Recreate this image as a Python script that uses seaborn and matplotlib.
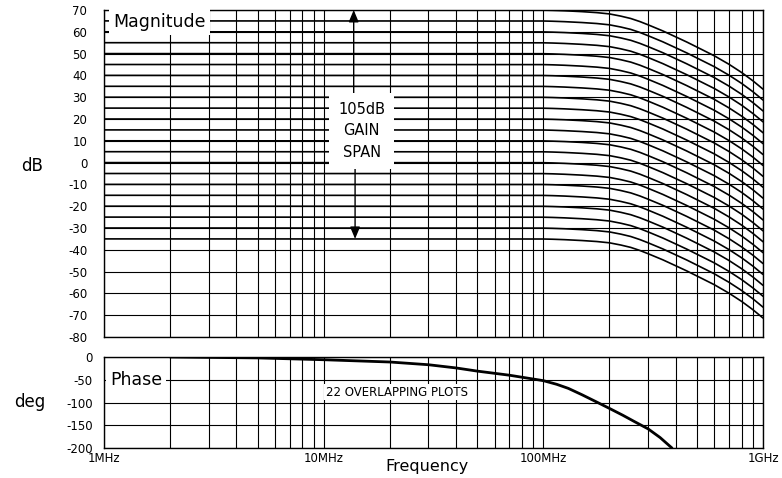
import matplotlib
matplotlib.use("Agg")
import matplotlib.pyplot as plt
import seaborn as sns
import pandas as pd
from matplotlib.ticker import LogLocator, NullFormatter, FixedLocator

# ---------------- data ----------------
gains_db = [70, 65, 60, 55, 50, 45, 40, 35, 30, 25, 20, 15, 10, 5, 0,
            -5, -10, -15, -20, -25, -30, -35]
rolloff_freq_mhz = [1, 100, 110, 125, 150, 175, 200, 225, 250, 275, 300, 350,
                    400, 450, 500, 600, 700, 800, 900, 1000]
rolloff_db = [0.0, 0.05, 0.15, 0.35, 0.75, 1.2, 1.8, 2.8, 3.9, 5.3, 6.8, 9.6,
              12.3, 14.7, 17.0, 21.0, 24.9, 28.7, 32.5, 36.3]

phase_freq_mhz = [2, 5, 10, 20, 30, 40, 50, 70, 100, 115, 130, 150, 175, 200,
                  230, 260, 300, 340, 385]
phase_deg = [0, -2, -6, -11, -17, -24, -31, -40, -52, -60, -69, -83, -99, -113,
             -128, -142, -158, -177, -200]

mag_yticks = [70, 60, 50, 40, 30, 20, 10, 0, -10, -20, -30, -40, -50, -60, -70, -80]
phase_yticks = [0, -50, -100, -150, -200]
x_ticks = [1, 10, 100, 1000]
x_ticklabels = ["1MHz", "10MHz", "100MHz", "1GHz"]

# ---------------- build tables ----------------
rows = []
for g in gains_db:
    for f, r in zip(rolloff_freq_mhz, rolloff_db):
        rows.append({"gain": g, "f": f, "dB": g - r})
mag_df = pd.DataFrame(rows)
phase_df = pd.DataFrame({"f": phase_freq_mhz, "deg": phase_deg})

# ---------------- style ----------------
sns.set_theme(style="white")
plt.rcParams["font.family"] = ["DejaVu Sans"]
plt.rcParams["axes.unicode_minus"] = False
plt.rcParams["axes.edgecolor"] = "black"
plt.rcParams["axes.linewidth"] = 1.0
plt.rcParams["text.color"] = "black"
plt.rcParams["axes.labelcolor"] = "black"
plt.rcParams["xtick.color"] = "black"
plt.rcParams["ytick.color"] = "black"

fig = plt.figure(figsize=(7.82, 4.78), dpi=100)
fig.patch.set_facecolor("white")
ax_m = fig.add_axes([104 / 782, 1 - 337 / 478, 659 / 782, 327 / 478])
ax_p = fig.add_axes([104 / 782, 1 - 448 / 478, 659 / 782, 91 / 478])

# magnitude curves
sns.lineplot(data=mag_df, x="f", y="dB", units="gain", estimator=None,
             color="black", linewidth=1.2, ax=ax_m, legend=False, zorder=3)
# phase curve
sns.lineplot(data=phase_df, x="f", y="deg", color="black", linewidth=2.0,
             ax=ax_p, legend=False, zorder=3)

for ax in (ax_m, ax_p):
    ax.set_xscale("log")
    ax.set_xlim(1, 1000)
    ax.xaxis.set_major_locator(FixedLocator(x_ticks))
    ax.xaxis.set_minor_locator(LogLocator(base=10, subs=[2, 3, 4, 5, 6, 7, 8, 9]))
    ax.xaxis.set_minor_formatter(NullFormatter())
    ax.grid(True, which="both", color="black", linewidth=0.8, zorder=1)
    ax.set_axisbelow(True)
    ax.set_xlabel("")
    ax.set_ylabel("")
    for s in ax.spines.values():
        s.set_color("black")
        s.set_linewidth(1.0)
    ax.tick_params(which="both", length=0, labelsize=8.5, colors="black")

ax_m.set_ylim(-80, 70)
ax_m.set_yticks(mag_yticks)
ax_m.set_xticklabels([])
ax_m.tick_params(axis="y", pad=12)

ax_p.set_ylim(-200, 0)
ax_p.set_yticks(phase_yticks)
ax_p.set_xticks(x_ticks, labels=x_ticklabels)
ax_p.tick_params(axis="y", pad=8)
ax_p.tick_params(axis="x", pad=3)

# annotations
white_box = dict(boxstyle="square,pad=0.25", fc="white", ec="none")
ax_m.text(0.014, 0.963, "Magnitude", transform=ax_m.transAxes, ha="left",
          va="center", fontsize=12.5, color="black", bbox=white_box, zorder=6)

ax_m.annotate("", xy=(13.7, 70), xytext=(13.7, 15),
              arrowprops=dict(arrowstyle="-|>,head_length=0.6,head_width=0.25",
                              color="black", lw=1.0, mutation_scale=12,
                              shrinkA=0, shrinkB=0), zorder=4)
ax_m.annotate("", xy=(13.9, -35), xytext=(13.9, 15),
              arrowprops=dict(arrowstyle="-|>,head_length=0.6,head_width=0.25",
                              color="black", lw=1.0, mutation_scale=12,
                              shrinkA=0, shrinkB=0), zorder=4)
ax_m.text(14.9, 14.5, "105dB\nGAIN\nSPAN", ha="center", va="center",
          fontsize=10.5, linespacing=1.55, color="black",
          bbox=dict(boxstyle="square,pad=0.6", fc="white", ec="none"), zorder=6)

trans_p = ax_p.get_yaxis_transform()
ax_p.text(0.009, -50, "Phase", transform=trans_p, ha="left", va="center",
          fontsize=12.5, color="black", bbox=white_box, zorder=6)
ax_p.text(21.6, -77, "22 OVERLAPPING PLOTS", ha="center", va="center",
          fontsize=8.5, color="black",
          bbox=dict(boxstyle="square,pad=0.15", fc="white", ec="none"), zorder=6)

fig.text(32 / 782, 1 - 166 / 478, "dB", ha="center", va="center", fontsize=12, color="black")
fig.text(30 / 782, 1 - 402 / 478, "deg", ha="center", va="center", fontsize=12, color="black")
fig.text(427 / 782, 1 - 467 / 478, "Frequency", ha="center", va="center",
         fontsize=11.5, color="black")

fig.savefig("out.png", dpi=100, facecolor="white")
